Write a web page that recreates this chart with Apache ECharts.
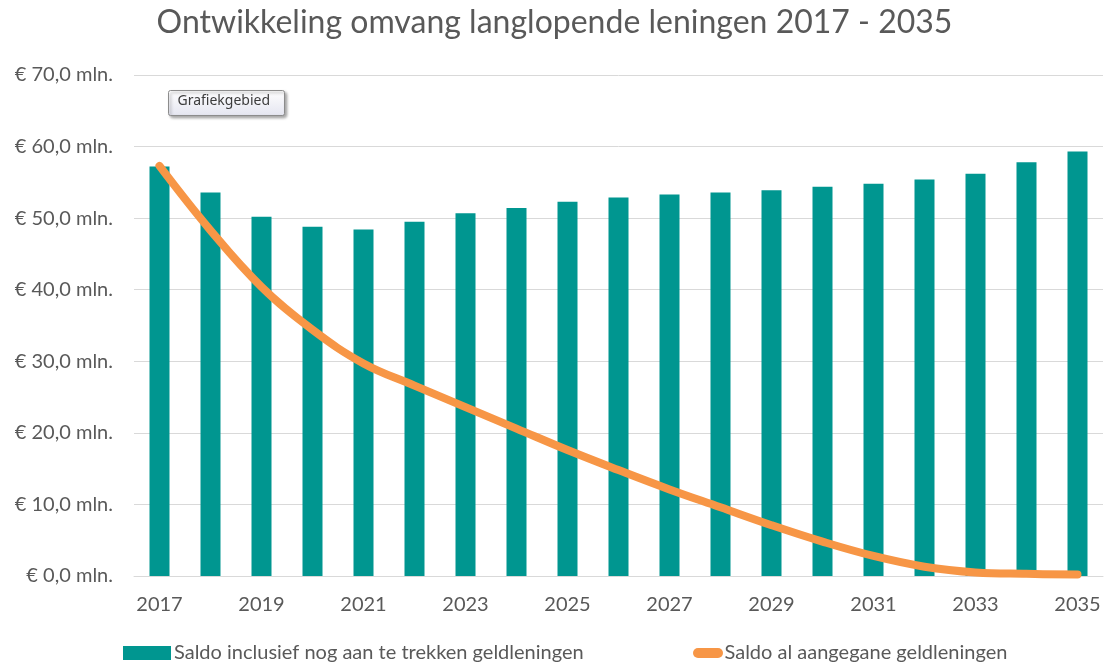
<!DOCTYPE html>
<html>
<head>
<meta charset="utf-8">
<script src="https://cdn.jsdelivr.net/npm/echarts@6/dist/echarts.min.js"></script>
<style>
  html, body { margin: 0; padding: 0; background: #fff; }
  #chart { width: 1109px; height: 665px; }
</style>
</head>
<body>
<div id="chart"></div>
<script>
var years = ["2017", "2018", "2019", "2020", "2021", "2022", "2023", "2024", "2025", "2026",
  "2027", "2028", "2029", "2030", "2031", "2032", "2033", "2034", "2035"];
// saldo inclusief nog aan te trekken geldleningen (mln.)
var saldoInclusief = [57.2, 53.6, 50.2, 48.8, 48.4, 49.5, 50.7, 51.4, 52.3, 52.9,
  53.3, 53.6, 53.9, 54.4, 54.8, 55.4, 56.2, 57.8, 59.3];
// saldo al aangegane geldleningen (mln.)
var saldoAangegaan = [57.3, 48.3, 40.4, 34.4, 29.7, 26.6, 23.6, 20.6, 17.6, 14.8,
  12.1, 9.6, 7.1, 4.8, 2.8, 1.3, 0.5, 0.3, 0.2];
var yTicks = [0, 10, 20, 30, 40, 50, 60, 70];

var serieBar = "Saldo inclusief nog aan te trekken geldleningen";
var serieLine = "Saldo al aangegane geldleningen";
var textColor = "#595959";
var font = "Lato";

var chart = echarts.init(document.getElementById("chart"));
var option = {
  animation: false,
  title: {
    text: "Ontwikkeling omvang langlopende leningen 2017 - 2035",
    left: "center",
    top: 2,
    textStyle: { fontFamily: font, fontWeight: "normal", fontSize: 32, color: textColor }
  },
  grid: { left: 134, right: 6, top: 75, bottom: 89 },
  legend: [
    {
      data: [serieBar],
      left: 118,
      top: 638,
      icon: "rect",
      itemWidth: 48,
      itemHeight: 14,
      itemGap: 4,
      textStyle: { fontFamily: font, fontSize: 20, color: textColor, padding: [0, 0, 0, -2] }
    },
    {
      data: [serieLine],
      left: 688,
      top: 638,
      icon: "path://M5,0 L25,0 A5,5 0 0 1 25,10 L5,10 A5,5 0 0 1 5,0 Z",
      itemWidth: 31,
      itemHeight: 10,
      textStyle: { fontFamily: font, fontSize: 20, color: textColor, padding: [0, 0, 0, -4] }
    }
  ],
  xAxis: {
    type: "category",
    data: years,
    axisTick: { show: false },
    axisLine: { lineStyle: { color: "#d9d9d9", width: 1 } },
    axisLabel: { interval: 1, margin: 19, fontFamily: font, fontSize: 20, color: textColor }
  },
  yAxis: {
    type: "value",
    min: yTicks[0],
    max: yTicks[yTicks.length - 1],
    interval: 10,
    axisLine: { show: false },
    axisTick: { show: false },
    splitLine: { lineStyle: { color: "#d9d9d9", width: 1 } },
    axisLabel: {
      margin: 21,
      fontFamily: font,
      fontSize: 20,
      color: textColor,
      formatter: function (v) {
        return "\u20ac " + v.toFixed(1).replace(".", ",") + " mln.";
      }
    }
  },
  series: [
    {
      name: serieBar,
      type: "bar",
      data: saldoInclusief,
      barWidth: 20,
      itemStyle: { color: "#009690" }
    },
    {
      name: serieLine,
      type: "line",
      data: saldoAangegaan,
      smooth: 0.4,
      symbol: "none",
      lineStyle: { color: "#f79646", width: 8, cap: "round", join: "round" },
      itemStyle: { color: "#f79646" }
    }
  ],
  graphic: [
    {
      type: "group",
      left: 168,
      top: 90,
      children: [
        {
          type: "rect",
          shape: { x: 0, y: 0, width: 116, height: 25, r: 2 },
          style: {
            fill: new echarts.graphic.LinearGradient(0, 0, 0, 1, [
              { offset: 0, color: "#ffffff" },
              { offset: 1, color: "#e4e5f0" }
            ]),
            stroke: "#8c8c8c",
            lineWidth: 1,
            shadowBlur: 3,
            shadowOffsetX: 2,
            shadowOffsetY: 2,
            shadowColor: "rgba(0,0,0,0.35)"
          }
        },
        {
          type: "text",
          left: 9,
          top: 4,
          style: {
            text: "Grafiekgebied",
            fontFamily: "Noto Sans",
            fontSize: 14,
            fill: "#3c3c3c"
          }
        }
      ]
    }
  ]
};
chart.setOption(option);
</script>
</body>
</html>
